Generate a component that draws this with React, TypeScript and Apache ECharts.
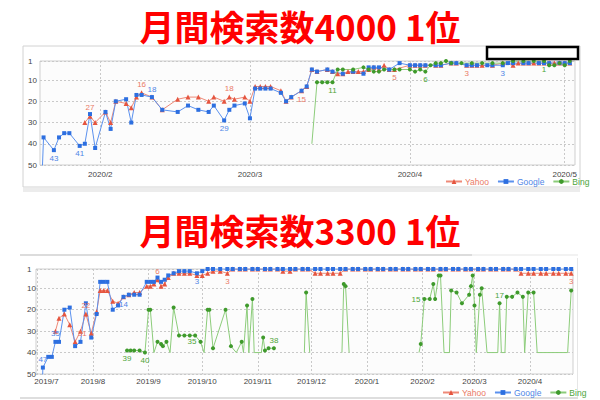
import React, { useEffect, useRef } from 'react';
import * as echarts from 'echarts';

// ---------- data ----------
const OUT = 0; // 圏外 (unranked)

const title1 = '月間検索数4000 1位';
const title2 = '月間検索数3300 1位';
const seriesNames = ['Yahoo', 'Google', 'Bing'];
const rankTicks = [1, 10, 20, 30, 40, 50];
const c1MonthTicks = ['2020-02-01', '2020-03-01', '2020-04-01', '2020-05-01'];
const c2MonthTicks = ['2019-07-01', '2019-08-01', '2019-09-01', '2019-10-01', '2019-11-01', '2019-12-01', '2020-01-01', '2020-02-01', '2020-03-01', '2020-04-01'];

// chart 1 : Google
const c1GoogleDates = ['2020-01-20', '2020-01-21', '2020-01-23', '2020-01-24', '2020-01-25', '2020-01-26', '2020-01-28', '2020-01-29', '2020-01-30', '2020-01-31',
  '2020-02-02', '2020-02-03', '2020-02-04', '2020-02-06', '2020-02-07', '2020-02-08', '2020-02-09', '2020-02-11', '2020-02-13', '2020-02-16', '2020-02-18', '2020-02-20', '2020-02-22', '2020-02-23', '2020-02-25', '2020-02-26', '2020-02-27', '2020-02-29',
  '2020-03-01', '2020-03-02', '2020-03-03', '2020-03-04', '2020-03-05', '2020-03-07', '2020-03-08', '2020-03-09', '2020-03-11', '2020-03-12', '2020-03-13', '2020-03-14', '2020-03-16', '2020-03-17', '2020-03-19', '2020-03-21', '2020-03-23', '2020-03-24', '2020-03-25', '2020-03-26', '2020-03-28', '2020-03-30',
  '2020-04-01', '2020-04-02', '2020-04-03', '2020-04-04', '2020-04-06', '2020-04-07', '2020-04-09', '2020-04-10', '2020-04-12', '2020-04-13', '2020-04-14', '2020-04-16', '2020-04-17', '2020-04-19', '2020-04-20', '2020-04-21', '2020-04-23', '2020-04-24', '2020-04-26', '2020-04-27', '2020-04-28', '2020-04-30',
  '2020-05-01', '2020-05-02'];
const c1GoogleRanks = [OUT, 37, 43, 37, 35, 35, 41, 40, 26, 42,
  25, 33, 20, 19, 30, 17, 17, 18, 24, 25, 22, 24, 25, 22, 29, 24, 22, 21,
  28, 14, 14, 14, 14, 16, 20, 18, 15, 13, 5, 6, 5, 6, 7, 6, 7, 4, 4, 4, 5, 2,
  3, 3, 3, 3, 3, 3, 2, 2, 3, 3, 3, 3, 3, 3, 2, 2, 2, 2, 2, 2, 2, 2,
  2, 2];
const c1GoogleLabels: [string, string][] = [['2020-01-23', 'bottom'], ['2020-01-28', 'bottom'], ['2020-02-11', 'top'], ['2020-02-25', 'bottom'], ['2020-04-19', 'bottom']];

// chart 1 : Yahoo
const c1YahooDates = ['2020-01-29', '2020-01-30', '2020-01-31',
  '2020-02-02', '2020-02-03', '2020-02-04', '2020-02-06', '2020-02-07', '2020-02-08', '2020-02-09', '2020-02-11', '2020-02-13', '2020-02-16', '2020-02-18', '2020-02-20', '2020-02-22', '2020-02-23', '2020-02-25', '2020-02-26', '2020-02-27', '2020-02-29',
  '2020-03-01', '2020-03-02', '2020-03-03', '2020-03-04', '2020-03-05', '2020-03-07', '2020-03-08', '2020-03-09', '2020-03-11', '2020-03-12', '2020-03-13', '2020-03-14', '2020-03-16', '2020-03-17', '2020-03-18', '2020-03-19', '2020-03-20', '2020-03-21', '2020-03-22', '2020-03-23', '2020-03-24', '2020-03-25', '2020-03-26', '2020-03-27', '2020-03-28', '2020-03-29',
  '2020-04-01', '2020-04-02', '2020-04-03', '2020-04-04', '2020-04-06', '2020-04-07', '2020-04-09', '2020-04-10', '2020-04-12', '2020-04-13', '2020-04-14', '2020-04-15', '2020-04-17', '2020-04-19', '2020-04-21', '2020-04-22', '2020-04-23', '2020-04-24', '2020-04-25', '2020-04-26', '2020-04-27', '2020-04-28', '2020-04-29', '2020-04-30',
  '2020-05-01', '2020-05-02'];
const c1YahooRanks = [30, 27, 30,
  25, 30, 20, 21, 23, 18, 16, 18, 24, 19, 18, 18, 20, 18, 20, 18, 19, 18,
  20, 13, 13, 13, 13, 15, 20, 18, 15, 13, 5, 6, 5, 6, 7, 7, 6, 6, 6, 6, 5, 4, 5, 3, 5, 5,
  3, 3, 3, 3, 3, 3, 2, 2, 3, 3, 3, 3, 3, 2, 3, 2, 2, 2, 2, 2, 2, 2, 2, 2,
  2, 2];
const c1YahooLabels: [string, string][] = [['2020-01-30', 'top'], ['2020-02-09', 'top'], ['2020-02-26', 'top'], ['2020-03-11', 'bottom'], ['2020-03-29', 'bottom'], ['2020-04-12', 'bottom']];

// chart 1 : Bing
const c1BingDates = ['2020-03-13', '2020-03-14', '2020-03-15', '2020-03-16', '2020-03-17', '2020-03-18', '2020-03-19', '2020-03-21', '2020-03-23', '2020-03-24', '2020-03-25', '2020-03-26', '2020-03-27', '2020-03-29', '2020-03-30',
  '2020-04-01', '2020-04-02', '2020-04-03', '2020-04-04', '2020-04-05', '2020-04-06', '2020-04-07', '2020-04-08', '2020-04-09', '2020-04-11', '2020-04-13', '2020-04-15', '2020-04-17', '2020-04-19', '2020-04-21', '2020-04-23', '2020-04-25', '2020-04-27', '2020-04-28', '2020-04-29', '2020-04-30',
  '2020-05-01', '2020-05-02'];
const c1BingRanks = [OUT, 11, 11, 11, 11, 5, 5, 5, 4, 5, 6, 6, 5, 5, 5,
  5, 6, 5, 6, 3, 2, 2, 1, 2, 2, 2, 2, 2, 2, 1, 1, 1, 1, 3, 3, 2,
  3, 1];
const c1BingLabels: [string, string][] = [['2020-03-17', 'bottom'], ['2020-04-04', 'bottom'], ['2020-04-27', 'bottom']];

// chart 2 : Google & Yahoo (shared dates)
const c2Dates = ['2019-07-02', '2019-07-04', '2019-07-07', '2019-07-09', '2019-07-11', '2019-07-13', '2019-07-16', '2019-07-19', '2019-07-22', '2019-07-25', '2019-07-28', '2019-07-31',
  '2019-08-03', '2019-08-05', '2019-08-07', '2019-08-09', '2019-08-12', '2019-08-15', '2019-08-18', '2019-08-21', '2019-08-24', '2019-08-27', '2019-08-31',
  '2019-09-02', '2019-09-04', '2019-09-06', '2019-09-08', '2019-09-10', '2019-09-12', '2019-09-15', '2019-09-18', '2019-09-21', '2019-09-24', '2019-09-28',
  '2019-10-01', '2019-10-04', '2019-10-07', '2019-10-11', '2019-10-15', '2019-10-18',
  '2019-10-22', '2019-10-25', '2019-10-29', '2019-11-01', '2019-11-05', '2019-11-08', '2019-11-12', '2019-11-15', '2019-11-19', '2019-11-22', '2019-11-26', '2019-11-29',
  '2019-12-03', '2019-12-06', '2019-12-10', '2019-12-13', '2019-12-17', '2019-12-20', '2019-12-24', '2019-12-27', '2019-12-31',
  '2020-01-03', '2020-01-07', '2020-01-10', '2020-01-14', '2020-01-17', '2020-01-21', '2020-01-24', '2020-01-28', '2020-01-31',
  '2020-02-04', '2020-02-07', '2020-02-11', '2020-02-14', '2020-02-18', '2020-02-21', '2020-02-25', '2020-02-28',
  '2020-03-03', '2020-03-06', '2020-03-10', '2020-03-13', '2020-03-17', '2020-03-20', '2020-03-24', '2020-03-27', '2020-03-31',
  '2020-04-03', '2020-04-07', '2020-04-10', '2020-04-14', '2020-04-17', '2020-04-21', '2020-04-24'];
const c2GoogleRanks = [OUT, 47, 42, 42, 35, 35, 20, 19, 37, 35, 17, 33,
  22, 7, 7, 7, 20, 18, 14, 13, 13, 13, 7,
  7, 7, 5, 7, 6, 4, 3, 2, 2, 2, 3,
  2, 1, 1, 1, 1, 1,
  1, 1, 1, 1, 1, 1, 1, 1, 1, 1, 1, 1,
  1, 1, 1, 1, 1, 1, 1, 1, 1,
  1, 1, 1, 1, 1, 1, 1, 1, 1,
  1, 1, 1, 1, 1, 1, 1, 1,
  1, 1, 1, 1, 1, 1, 1, 1, 1,
  1, 1, 1, 1, 1, 1, 1];
const c2YahooRanks = [null, null, null, null, 30, 24, 22, 27, 35, 30, 22, 31,
  21, 11, 11, 11, 16, 17, 14, 13, 12, 12, 9,
  9, 8, 6, 9, 8, 5, 3, 3, 3, 3, 4,
  4, 3, 2, 2, 3, 1,
  1, 1, 1, 1, 1, 1, 1, 2, 2, 1, 1, 1,
  3, 3, 3, 3, 3, 1, 1, 1, 1,
  1, 1, 1, 1, 1, 1, 1, 1, 1,
  1, 1, 1, 1, 1, 1, 1, 1,
  1, 1, 1, 1, 1, 1, 1, 3, 3,
  3, 3, 3, 3, 3, 3, 3];
const c2GoogleLabels: [string, string][] = [['2019-07-04', 'top'], ['2019-07-11', 'top'], ['2019-08-18', 'bottom'], ['2019-09-28', 'bottom']];
const c2YahooLabels: [string, string][] = [['2019-07-28', 'top'], ['2019-07-31', 'left'], ['2019-09-06', 'top'], ['2019-10-15', 'bottom'], ['2020-04-24', 'bottom']];

// chart 2 : Bing (null = no data, OUT = unranked)
const c2BingDates = ['2019-08-20', '2019-08-22', '2019-08-24', '2019-08-27', '2019-08-30',
  '2019-09-01', '2019-09-02', '2019-09-04', '2019-09-06', '2019-09-08', '2019-09-09', '2019-09-11', '2019-09-13', '2019-09-15', '2019-09-18', '2019-09-21', '2019-09-24', '2019-09-27', '2019-09-30',
  '2019-10-02', '2019-10-04', '2019-10-05', '2019-10-07', '2019-10-14', '2019-10-17', '2019-10-20', '2019-10-23', '2019-10-24', '2019-10-26', '2019-10-27', '2019-10-29', '2019-10-30',
  '2019-11-03', '2019-11-04', '2019-11-05', '2019-11-07', '2019-11-10', '2019-11-11', '2019-11-27', '2019-11-28', '2019-11-30',
  '2019-12-01', '2019-12-18', '2019-12-19', '2019-12-20', '2019-12-22', '2019-12-23',
  '2020-01-30', '2020-01-31',
  '2020-02-02', '2020-02-05', '2020-02-07', '2020-02-08', '2020-02-10', '2020-02-11', '2020-02-13', '2020-02-16', '2020-02-17', '2020-02-20', '2020-02-23', '2020-02-27', '2020-02-28', '2020-02-29',
  '2020-03-01', '2020-03-02', '2020-03-04', '2020-03-05', '2020-03-08', '2020-03-14', '2020-03-15', '2020-03-16', '2020-03-18', '2020-03-19', '2020-03-22', '2020-03-25', '2020-03-28', '2020-03-29', '2020-03-31',
  '2020-04-03', '2020-04-05', '2020-04-22', '2020-04-24'];
const c2BingRanks = [39, 39, 39, 39, 40,
  20, 20, OUT, 35, 36, 37, 35, OUT, 19, 32, 32, 32, 32, 35,
  OUT, 20, 20, 38, 20, 37, OUT, 35, OUT, 18, OUT, 15, OUT,
  OUT, 33, 39, 38, 38, null, OUT, 12, OUT,
  null, OUT, 8, 9, OUT, null,
  OUT, 36,
  15, 15, 8, 15, 4, 4, OUT, OUT, 11, 12, 17, 13, 9, 4,
  18, OUT, 13, 10, OUT, OUT, 17, OUT, OUT, 14, 14, 12, 14, OUT, 12,
  12, OUT, OUT, 11];
const c2BingLabels: [string, string][] = [['2019-08-20', 'bottom'], ['2019-08-30', 'bottom'], ['2019-09-30', 'left'], ['2019-11-10', 'top'], ['2020-02-02', 'left'], ['2020-03-15', 'top']];

// ---------- helpers ----------
function ts(s: string) {
  const [y, m, d] = s.split('-').map(Number);
  return new Date(y, m - 1, d).getTime();
}
const DAY = 86400000;

function build(dates: string[], ranks: (number | null)[], outVal: number, labels: [string, string][]) {
  return dates.map((d, i) => {
    const r = ranks[i];
    const x = ts(d);
    if (r === null || r === undefined) return [x, '-'];
    if (r === OUT) return { value: [x, outVal], symbol: 'none' };
    const lab = labels.find((l) => l[0] === d);
    return lab ? { value: [x, r], label: { show: true, position: lab[1] } } : [x, r];
  });
}

const COLORS = {
  Yahoo: { item: '#e5553f', line: '#ee8a78', label: '#ea7a66' },
  Google: { item: '#2d6fe0', line: '#5b91ee', label: '#4f86e6' },
  Bing: { item: '#3f9a2c', line: '#8ccc7a', label: '#4ea53a' },
};
const SYMBOLS: Record<string, string> = { Yahoo: 'triangle', Google: 'rect', Bing: 'circle' };

function lineSeries(name: 'Yahoo' | 'Google' | 'Bing', idx: number, data: any[]) {
  const c = COLORS[name];
  return {
    type: 'line',
    name,
    xAxisIndex: idx,
    yAxisIndex: idx,
    data,
    symbol: SYMBOLS[name],
    symbolSize: name === 'Yahoo' ? 5 : 4,
    showAllSymbol: true,
    connectNulls: false,
    clip: true,
    lineStyle: { color: c.line, width: 1 },
    itemStyle: { color: c.item },
    label: { show: false, color: c.label, fontSize: 8, distance: 2, fontFamily: 'Liberation Sans' },
    emphasis: { disabled: true },
  };
}

function xAxisFor(idx: number, min: number, max: number, ticks: string[], margin: number, firstPad: number) {
  const vals = ticks.map(ts);
  return {
    type: 'value',
    gridIndex: idx,
    min,
    max,
    axisLine: { show: false },
    axisTick: { show: false, customValues: vals },
    axisLabel: {
      customValues: vals,
      margin,
      fontSize: 8,
      color: '#444',
      fontFamily: 'Liberation Sans',
      formatter: (v: number) => {
        const d = new Date(v);
        const txt = d.getFullYear() + '/' + (d.getMonth() + 1);
        return firstPad > 0 && v === vals[0] ? '{first|' + txt + '}' : txt;
      },
      rich: { first: { padding: [0, 0, 0, firstPad], fontSize: 8, color: '#444', fontFamily: 'Liberation Sans' } },
    },
    splitLine: { show: true, lineStyle: { color: '#c9c9c9', type: [2, 2], width: 1 } },
  };
}

function yAxisFor(idx: number, margin: number) {
  return {
    type: 'value',
    gridIndex: idx,
    inverse: true,
    min: 1,
    max: 50,
    axisLine: { show: false },
    axisTick: { show: false, customValues: rankTicks },
    axisLabel: { customValues: rankTicks, align: 'left', margin, fontSize: 8, color: '#444', fontFamily: 'Liberation Sans' },
    splitLine: { show: true, lineStyle: { color: '#c9c9c9', type: [2, 2], width: 1 } },
  };
}

function legendAt(left: number, top: number) {
  return {
    left,
    top,
    orient: 'horizontal',
    itemWidth: 16,
    itemHeight: 6,
    itemGap: 8,
    selectedMode: false,
    textStyle: { fontSize: 8.5, fontFamily: 'Liberation Sans', padding: [0, 0, 0, -2] },
    data: seriesNames.map((n) => ({ name: n, textStyle: { color: (COLORS as any)[n].label } })),
  };
}

export default function App() {
  const ref = useRef<HTMLDivElement>(null);
  useEffect(() => {
    if (!ref.current) return;
    const chart = echarts.init(ref.current, undefined, { renderer: 'svg' });
    const titleStyle = {
      fill: '#ff0000',
      fontSize: 35,
      fontWeight: 'bold',
      fontFamily: 'Noto Sans CJK JP',
      textAlign: 'center',
      textVerticalAlign: 'middle',
    };
    const option: any = {
      animation: false,
      backgroundColor: '#ffffff',
      graphic: [
        { type: 'rect', z: -10, shape: { x: 23, y: 46, width: 557, height: 141 }, style: { fill: '#ffffff', stroke: '#d2d2d2', lineWidth: 1 } },
        { type: 'rect', z: -10, shape: { x: 23, y: 188, width: 557, height: 4 }, style: { fill: '#ececec' } },
        { type: 'rect', z: -10, shape: { x: 20, y: 254, width: 452, height: 2 }, style: { fill: '#dcdcdc' } },
        { type: 'rect', z: -10, shape: { x: 472, y: 254, width: 106, height: 2 }, style: { fill: '#f2f2f2' } },
        { type: 'rect', z: -10, shape: { x: 20, y: 397, width: 558, height: 2 }, style: { fill: '#dedede' } },
        { type: 'rect', z: -10, shape: { x: 577, y: 258, width: 1, height: 139 }, style: { fill: '#e6e6e6' } },
        { type: 'rect', z: 10, shape: { x: 487, y: 47, width: 91, height: 12 }, style: { fill: '#ffffff', stroke: '#000000', lineWidth: 2.5 } },
        { type: 'text', z: 10, x: 300, y: 25, style: { ...titleStyle, text: title1 } },
        { type: 'text', z: 10, x: 300, y: 229, style: { ...titleStyle, text: title2 } },
      ],
      grid: [
        { left: 40, top: 61, width: 535, height: 104, show: true, backgroundColor: '#fcfcfc', borderColor: '#cfcfcf', borderWidth: 1 },
        { left: 36, top: 269, width: 537, height: 105, show: true, backgroundColor: '#fcfcfc', borderColor: '#cfcfcf', borderWidth: 1 },
      ],
      xAxis: [
        xAxisFor(0, ts('2020-01-20') + 0.31 * DAY, ts('2020-05-03'), c1MonthTicks, 5, 0),
        xAxisFor(1, ts('2019-06-30') + 0.16 * DAY, ts('2020-04-25'), c2MonthTicks, 3, 18),
      ],
      yAxis: [yAxisFor(0, 12), yAxisFor(1, 9)],
      legend: [legendAt(440, 172), legendAt(437, 383)],
      series: [
        lineSeries('Yahoo', 0, build(c1YahooDates, c1YahooRanks, 100, c1YahooLabels)),
        lineSeries('Google', 0, build(c1GoogleDates, c1GoogleRanks, 100, c1GoogleLabels)),
        lineSeries('Bing', 0, build(c1BingDates, c1BingRanks, 40, c1BingLabels)),
        lineSeries('Yahoo', 1, build(c2Dates, c2YahooRanks, 100, c2YahooLabels)),
        lineSeries('Google', 1, build(c2Dates, c2GoogleRanks, 100, c2GoogleLabels)),
        lineSeries('Bing', 1, build(c2BingDates, c2BingRanks, 40, c2BingLabels)),
      ],
    };
    chart.setOption(option);
    return () => chart.dispose();
  }, []);
  return <div ref={ref} style={{ position: 'fixed', left: 0, top: 0, width: 600, height: 400 }} />;
}
